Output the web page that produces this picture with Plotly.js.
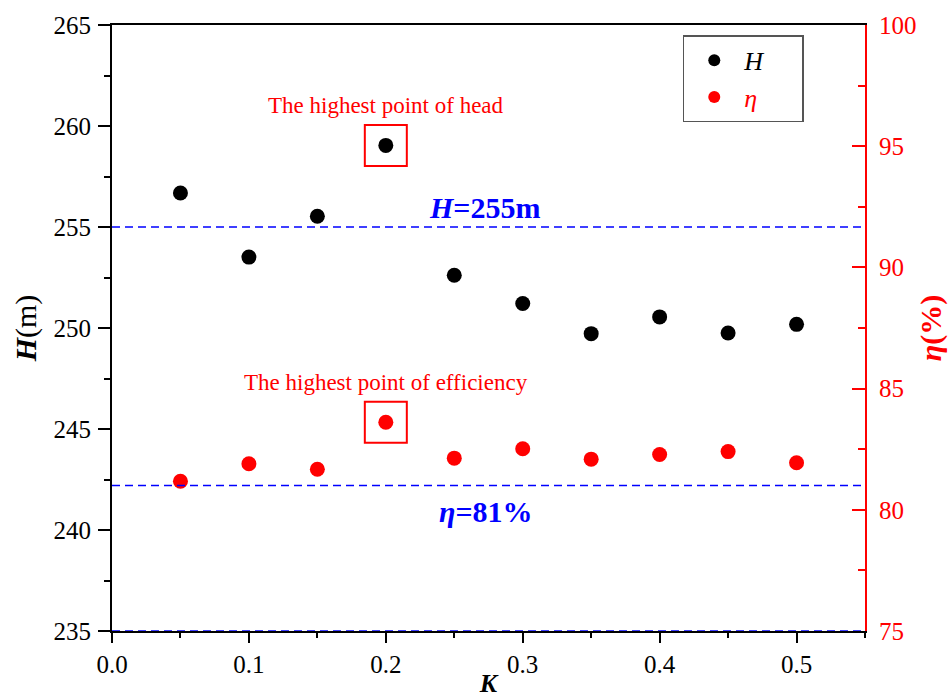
<!DOCTYPE html>
<html><head><meta charset="utf-8">
<script src="https://cdn.plot.ly/plotly-3.0.1.min.js"></script>
<style>html,body{margin:0;padding:0;background:#fff}</style>
</head><body><div id="chart" style="width:950px;height:698px"></div>
<script>
// Data
const K = [0.05, 0.10, 0.15, 0.20, 0.25, 0.30, 0.35, 0.40, 0.45, 0.50];
const H = [256.68, 253.51, 255.53, 259.04, 252.61, 251.21, 249.72, 250.55, 249.75, 250.18];
const eta = [81.18, 81.90, 81.67, 83.61, 82.13, 82.52, 82.09, 82.28, 82.40, 81.94];
const refH = 255;
const refEta = 81;
const bottomRef = 235;
const xTicks = [0, 0.1, 0.2, 0.3, 0.4, 0.5];
const hLabel = 'The highest point of head';
const etaLabel = 'The highest point of efficiency';

const iH = H.indexOf(Math.max(...H));
const iE = eta.indexOf(Math.max(...eta));

const FONT = 'Liberation Serif, Times New Roman, serif';
const BLUE = '#0000ff';
const RED = '#ff0000';
const PAD = '\u00a0\u00a0\u00a0\u00a0\u00a0';

const traces = [
  {x: K, y: H, type: 'scatter', mode: 'markers', name: '<i>H</i>' + PAD,
   marker: {color: '#000000', size: 15}, yaxis: 'y'},
  {x: K, y: eta, type: 'scatter', mode: 'markers', name: '<span style="color:#ff0000"><i>η</i></span>' + PAD,
   marker: {color: RED, size: 15}, yaxis: 'y2'}
];

const dash = {color: BLUE, width: 1.5, dash: '8px,5px'};
const shapes = [
  {type: 'line', xref: 'paper', x0: 0, x1: 1, yref: 'y', y0: refH, y1: refH, line: dash},
  {type: 'line', xref: 'paper', x0: 0, x1: 1, yref: 'y2', y0: refEta, y1: refEta, line: dash},
  {type: 'line', xref: 'paper', x0: 0, x1: 1, yref: 'y', y0: bottomRef, y1: bottomRef, line: dash, layer: 'above'},
  {type: 'rect', xref: 'x', yref: 'y', xsizemode: 'pixel', ysizemode: 'pixel',
   xanchor: K[iH], yanchor: H[iH], x0: -21, x1: 21, y0: -20.5, y1: 20.5,
   line: {color: RED, width: 2}},
  {type: 'rect', xref: 'x', yref: 'y2', xsizemode: 'pixel', ysizemode: 'pixel',
   xanchor: K[iE], yanchor: eta[iE], x0: -21, x1: 21, y0: -20.5, y1: 20.5,
   line: {color: RED, width: 2}}
];

const annotations = [
  {xref: 'x', yref: 'y', x: K[iH], y: H[iH], yshift: 40, showarrow: false, text: hLabel,
   font: {family: FONT, size: 23, color: RED}},
  {xref: 'x', yref: 'y2', x: K[iE], y: eta[iE], yshift: 40, showarrow: false, text: etaLabel,
   font: {family: FONT, size: 23, color: RED}},
  {xref: 'paper', yref: 'y', x: 0.495, y: refH, yshift: 20, showarrow: false,
   text: '<b><i>H</i>=' + refH + 'm</b>', font: {family: FONT, size: 30, color: BLUE}},
  {xref: 'paper', yref: 'y2', x: 0.497, y: refEta, yshift: -26, showarrow: false,
   text: '<b><i>η</i>=' + refEta + '%</b>', font: {family: FONT, size: 30, color: BLUE}}
];

const layout = {
  width: 950, height: 698,
  margin: {l: 112, r: 84.5, t: 24.5, b: 67.3},
  paper_bgcolor: '#ffffff', plot_bgcolor: '#ffffff',
  font: {family: FONT, color: '#000000'},
  showlegend: true,
  legend: {x: 0.758, y: 0.983, xanchor: 'left', yanchor: 'top',
           bordercolor: '#555555', borderwidth: 1.5, bgcolor: '#ffffff',
           itemwidth: 50,
           font: {family: FONT, size: 26, color: '#000000'}, itemsizing: 'constant'},
  xaxis: {
    range: [0, 0.55], tickvals: xTicks, tickformat: '.1f',
    ticks: 'outside', ticklen: 10, tickwidth: 2, tickcolor: '#000',
    showline: true, linecolor: '#000', linewidth: 2, mirror: true,
    showgrid: false, zeroline: false,
    minor: {dtick: 0.05, tick0: 0, ticks: 'outside', ticklen: 5, tickwidth: 2, tickcolor: '#000', showgrid: false},
    tickfont: {family: FONT, size: 25, color: '#000'},
    title: {text: '<b><i>K</i></b>', font: {family: FONT, size: 26, color: '#000'}, standoff: 16}
  },
  yaxis: {
    range: [235, 265], tick0: 235, dtick: 5,
    ticks: 'outside', ticklen: 12, tickwidth: 2, tickcolor: '#000',
    showline: true, linecolor: '#000', linewidth: 2,
    showgrid: false, zeroline: false, ticklabelstandoff: 2,
    minor: {dtick: 2.5, ticks: 'outside', ticklen: 6, tickwidth: 2, tickcolor: '#000', showgrid: false},
    tickfont: {family: FONT, size: 25, color: '#000'},
    title: {text: '<b><i>H</i></b>(m)', font: {family: FONT, size: 30, color: '#000'}, standoff: 8}
  },
  yaxis2: {
    overlaying: 'y', side: 'right',
    range: [75, 100], tick0: 75, dtick: 5,
    ticks: 'inside', ticklen: 13, tickwidth: 2, tickcolor: RED,
    showline: true, linecolor: RED, linewidth: 2,
    showgrid: false, zeroline: false, ticklabelstandoff: 7,
    minor: {dtick: 2.5, ticks: 'inside', ticklen: 7, tickwidth: 2, tickcolor: RED, showgrid: false},
    tickfont: {family: FONT, size: 25, color: RED},
    title: {text: '<b><i>η</i>(%)</b>', font: {family: FONT, size: 30, color: RED}, standoff: 4}
  },
  shapes: shapes,
  annotations: annotations
};

Plotly.newPlot('chart', traces, layout, {displayModeBar: false, staticPlot: true});
</script></body></html>
